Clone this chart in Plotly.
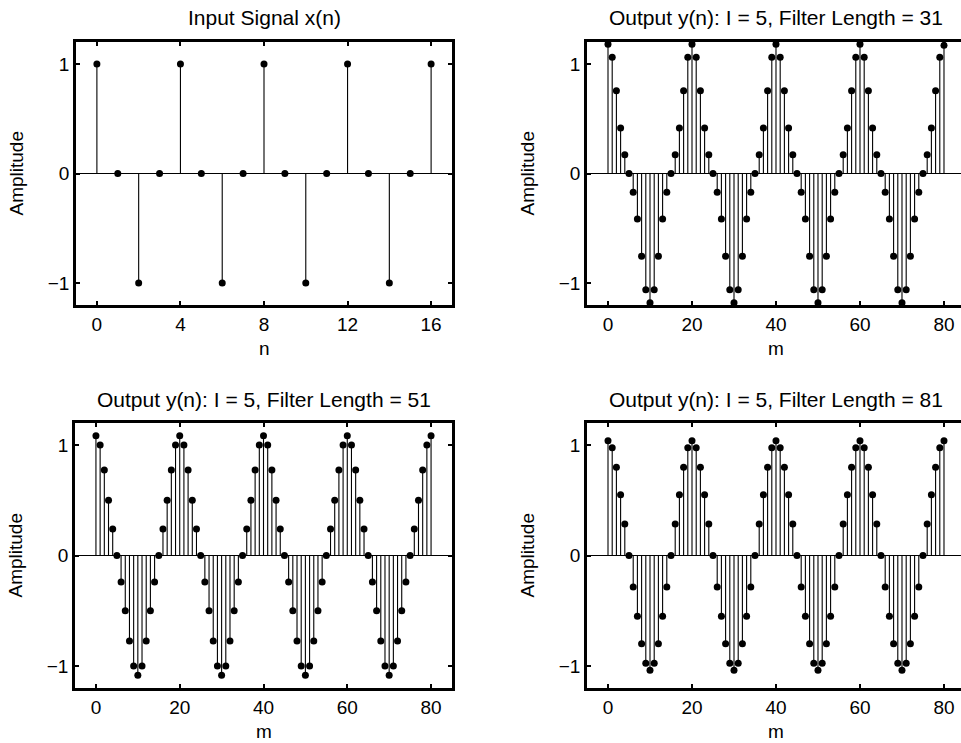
import plotly.graph_objects as go

# ---------------- data ----------------
n = list(range(17))
x_n = [1, 0, -1, 0, 1, 0, -1, 0, 1, 0, -1, 0, 1, 0, -1, 0, 1]

m = list(range(81))
y_L31 = [
    1.18, 1.06, 0.755, 0.415, 0.17, 0, -0.17, -0.415, -0.755, -1.06,
    -1.18, -1.06, -0.755, -0.415, -0.17, 0, 0.17, 0.415, 0.755, 1.06,
    1.18, 1.06, 0.755, 0.415, 0.17, 0, -0.17, -0.415, -0.755, -1.06,
    -1.18, -1.06, -0.755, -0.415, -0.17, 0, 0.17, 0.415, 0.755, 1.06,
    1.18, 1.06, 0.755, 0.415, 0.17, 0, -0.17, -0.415, -0.755, -1.06,
    -1.18, -1.06, -0.755, -0.415, -0.17, 0, 0.17, 0.415, 0.755, 1.06,
    1.18, 1.06, 0.755, 0.415, 0.17, 0, -0.17, -0.415, -0.755, -1.06,
    -1.18, -1.06, -0.755, -0.415, -0.17, 0, 0.17, 0.415, 0.755, 1.06,
    1.17,
]
y_L51 = [
    1.085, 1.0, 0.775, 0.5, 0.24, 0, -0.24, -0.5, -0.775, -1.0,
    -1.085, -1.0, -0.775, -0.5, -0.24, 0, 0.24, 0.5, 0.775, 1.0,
    1.085, 1.0, 0.775, 0.5, 0.24, 0, -0.24, -0.5, -0.775, -1.0,
    -1.085, -1.0, -0.775, -0.5, -0.24, 0, 0.24, 0.5, 0.775, 1.0,
    1.085, 1.0, 0.775, 0.5, 0.24, 0, -0.24, -0.5, -0.775, -1.0,
    -1.085, -1.0, -0.775, -0.5, -0.24, 0, 0.24, 0.5, 0.775, 1.0,
    1.085, 1.0, 0.775, 0.5, 0.24, 0, -0.24, -0.5, -0.775, -1.0,
    -1.085, -1.0, -0.775, -0.5, -0.24, 0, 0.24, 0.5, 0.775, 1.0,
    1.085,
]
y_L81 = [
    1.04, 0.975, 0.8, 0.55, 0.285, 0, -0.285, -0.55, -0.8, -0.975,
    -1.04, -0.975, -0.8, -0.55, -0.285, 0, 0.285, 0.55, 0.8, 0.975,
    1.04, 0.975, 0.8, 0.55, 0.285, 0, -0.285, -0.55, -0.8, -0.975,
    -1.04, -0.975, -0.8, -0.55, -0.285, 0, 0.285, 0.55, 0.8, 0.975,
    1.04, 0.975, 0.8, 0.55, 0.285, 0, -0.285, -0.55, -0.8, -0.975,
    -1.04, -0.975, -0.8, -0.55, -0.285, 0, 0.285, 0.55, 0.8, 0.975,
    1.04, 0.975, 0.8, 0.55, 0.285, 0, -0.285, -0.55, -0.8, -0.975,
    -1.04, -0.975, -0.8, -0.55, -0.285, 0, 0.285, 0.55, 0.8, 0.975,
    1.04,
]

titles = [
    "Input Signal x(n)",
    "Output y(n): I = 5, Filter Length = 31",
    "Output y(n): I = 5, Filter Length = 51",
    "Output y(n): I = 5, Filter Length = 81",
]
xlabels = ["n", "m", "m", "m"]
ylabel = "Amplitude"
xticks_in = [0, 4, 8, 12, 16]
xticks_out = [0, 20, 40, 60, 80]
yticks = [-1, 0, 1]

# ---------------- layout geometry ----------------
W, H = 961, 743
FONT = "Liberation Sans, Arial, Helvetica, sans-serif"

def px_x(p):
    return p / W

def px_y(p):
    return 1 - p / H

panels = [
    # (x0px, x1px, ytop, ybot, xrange, xticks, xs, ys)
    (76, 452, 42, 305, [-1, 17], xticks_in, n, x_n),
    (587, 961, 42, 305, [-5, 84.05], xticks_out, m, y_L31),
    (75, 452, 423, 688, [-5, 85], xticks_out, m, y_L51),
    (587, 961, 423, 688, [-5, 84.05], xticks_out, m, y_L81),
]
full_centers = [264, 776, 263.5, 776]

fig = go.Figure()
annotations = []
shapes = []

for i, (x0, x1, yt, yb, xr, xt, xs, ys) in enumerate(panels):
    k = "" if i == 0 else str(i + 1)
    xa, ya = "x" + k, "y" + k
    # stems
    sx, sy = [], []
    for a, b in zip(xs, ys):
        sx += [a, a, None]
        sy += [0, b, None]
    fig.add_trace(go.Scatter(x=sx, y=sy, mode="lines", xaxis=xa, yaxis=ya,
                             line=dict(color="#000000", width=1.1),
                             hoverinfo="skip", showlegend=False))
    fig.add_trace(go.Scatter(x=xs, y=ys, mode="markers", xaxis=xa, yaxis=ya,
                             marker=dict(color="black", size=7),
                             showlegend=False))
    # baseline
    shapes.append(dict(type="line", xref=xa + " domain", yref=ya,
                       x0=0, x1=1, y0=0, y1=0,
                       line=dict(color="black", width=1.2)))
    right_col = i in (1, 3)
    fig.update_layout(**{
        "xaxis" + k: dict(domain=[px_x(x0), px_x(x1)], range=xr, anchor=ya,
                          tickvals=xt, ticks="inside", ticklen=4, tickwidth=1.5,
                          tickcolor="black", showline=True, linecolor="black",
                          linewidth=2.5, mirror="ticks", showgrid=False,
                          zeroline=False, ticklabelstandoff=0,
                          tickfont=dict(family=FONT, size=19, color="black")),
        "yaxis" + k: dict(domain=[px_y(yb), px_y(yt)], range=[-1.2, 1.2], anchor=xa,
                          tickvals=yticks, ticks="inside", ticklen=4, tickwidth=1.5,
                          tickcolor="black", showline=True, linecolor="black",
                          linewidth=2.5, mirror=(False if right_col else "ticks"),
                          showgrid=False, zeroline=False, ticklabelstandoff=0,
                          tickfont=dict(family=FONT, size=19, color="black")),
    })
    # title
    annotations.append(dict(text=titles[i], xref="paper", yref="paper",
                            x=px_x(full_centers[i]), y=px_y(yt - 24),
                            xanchor="center", yanchor="middle", showarrow=False,
                            font=dict(family=FONT, size=21, color="black")))
    # x label
    annotations.append(dict(text=xlabels[i], xref="paper", yref="paper",
                            x=px_x(full_centers[i]), y=px_y(yb + 43),
                            xanchor="center", yanchor="middle", showarrow=False,
                            font=dict(family=FONT, size=19, color="black")))
    # y label
    annotations.append(dict(text=ylabel, xref="paper", yref="paper",
                            x=px_x(x0 - 60), y=px_y((yt + yb) / 2),
                            xanchor="center", yanchor="middle", textangle=-90,
                            showarrow=False,
                            font=dict(family=FONT, size=19, color="black")))

fig.update_layout(width=W, height=H, margin=dict(l=0, r=0, t=0, b=0),
                  paper_bgcolor="white", plot_bgcolor="white",
                  annotations=annotations, shapes=shapes, showlegend=False)

fig.write_html("out.html", config={"displayModeBar": False},
               post_script="document.body.style.margin='0';"
                           "document.body.style.overflow='hidden';")
